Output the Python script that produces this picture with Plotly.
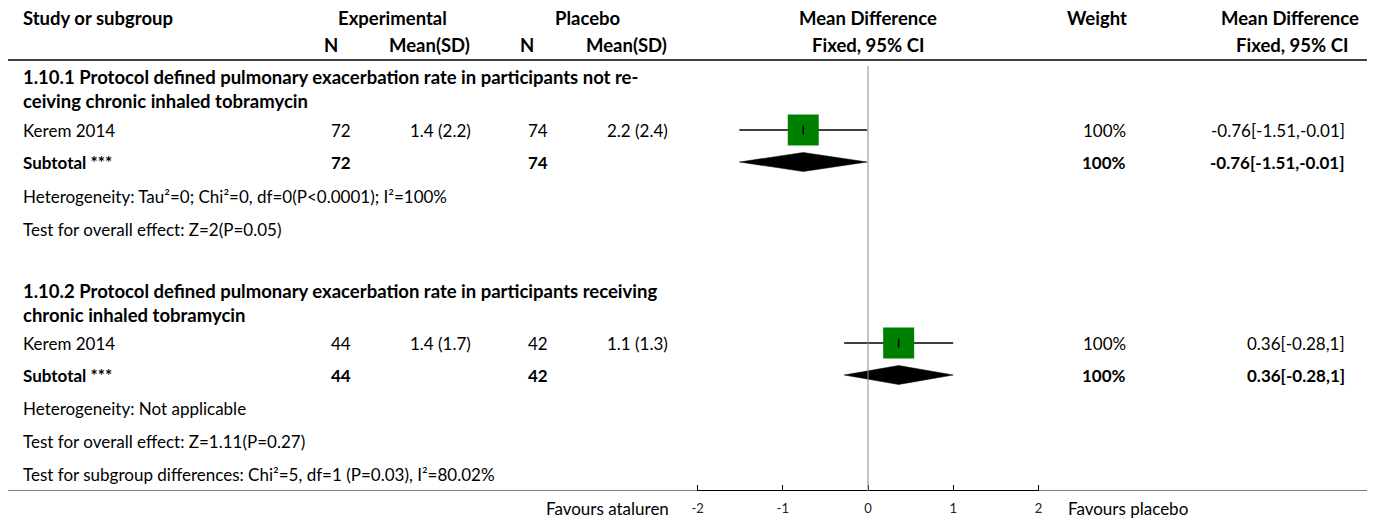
import plotly.graph_objects as go

# ---- data ----
subgroup_titles = [
    ["1.10.1 Protocol defined pulmonary exacerbation rate in participants not re-",
     "ceiving chronic inhaled tobramycin"],
    ["1.10.2 Protocol defined pulmonary exacerbation rate in participants receiving",
     "chronic inhaled tobramycin"],
]
study_names = ["Kerem 2014", "Kerem 2014"]
exp_n = [72, 44]
exp_mean = [1.4, 1.4]
exp_sd = [2.2, 1.7]
pla_n = [74, 42]
pla_mean = [2.2, 1.1]
pla_sd = [2.4, 1.3]
md = [-0.76, 0.36]
ci_lo = [-1.51, -0.28]
ci_hi = [-0.01, 1]
weights = ["100%", "100%"]
heterogeneity = [
    "Heterogeneity: Tau²=0; Chi²=0, df=0(P<0.0001); I²=100%",
    "Heterogeneity: Not applicable",
]
overall_effect = [
    "Test for overall effect: Z=2(P=0.05)",
    "Test for overall effect: Z=1.11(P=0.27)",
]
subgroup_diff = "Test for subgroup differences: Chi²=5, df=1 (P=0.03), I²=80.02%"
tick_vals = [-2, -1, 0, 1, 2]
left_label = "Favours ataluren"
right_label = "Favours placebo"

# ---- layout constants ----
W, H = 1375, 522
PLOT_BOTTOM = 491           # pixel row of the axis line
X0_PX, UNIT_PX = 868, 85.2  # pixel of zero and pixels per unit
FONT = "Lato, 'Source Sans Pro', sans-serif"
FS = 17          # regular text
FS_BOLD = 17     # bold numbers
FS_HEAD = 18.5   # bold headings and subgroup titles
TXT = "#000000"

x_range = [-X0_PX / UNIT_PX, (W - X0_PX) / UNIT_PX]

# row centres (pixels from top) for each subgroup block
block_rows = [
    dict(title=89, study=130, subtotal=162, het=196, eff=229),
    dict(title=303, study=343, subtotal=375, het=408, eff=441),
]
diff_row = 474

col_exp_n, col_exp_ms = 353, 473
col_pla_n, col_pla_ms = 550, 670
col_weight = 1104
col_ci = 1347
left_text = 21


def px(x):
    return x / W


def fmt(v):
    return format(v, "g")


annotations = []


def add_text(x, y, text, anchor="left", bold=False, size=None, color=TXT, yref="y"):
    if size is None:
        size = FS_BOLD if bold else FS
    if bold:
        text = "<br>".join(f"<b>{t}</b>" for t in text.split("<br>"))
    annotations.append(dict(
        x=px(x), y=y, xref="paper", yref=yref, text=text,
        showarrow=False, xanchor=anchor, yanchor="middle", align=anchor,
        font=dict(family=FONT, size=size, color=color),
    ))


# header
add_text(left_text, 18, "Study or subgroup", bold=True, size=FS_HEAD)
add_text(392, 18, "Experimental", "center", True, FS_HEAD)
add_text(588, 18, "Placebo", "center", True, FS_HEAD)
add_text(868, 18, "Mean Difference", "center", True, FS_HEAD)
add_text(1097, 18, "Weight", "center", True, FS_HEAD)
add_text(1290, 18, "Mean Difference", "center", True, FS_HEAD)
add_text(331, 45, "N", "center", True, FS_HEAD)
add_text(429, 45, "Mean(SD)", "center", True, FS_HEAD)
add_text(527, 45, "N", "center", True, FS_HEAD)
add_text(626, 45, "Mean(SD)", "center", True, FS_HEAD)
add_text(868, 45, "Fixed, 95% CI", "center", True, FS_HEAD)
add_text(1292, 45, "Fixed, 95% CI", "center", True, FS_HEAD)

fig = go.Figure()

for i, rows in enumerate(block_rows):
    # wrapped subgroup title
    add_text(left_text, rows["title"], "<br>".join(subgroup_titles[i]), bold=True, size=FS_HEAD)
    # study row
    add_text(left_text, rows["study"], study_names[i])
    add_text(col_exp_n, rows["study"], str(exp_n[i]), "right")
    add_text(col_exp_ms, rows["study"], f"{fmt(exp_mean[i])} ({fmt(exp_sd[i])})", "right")
    add_text(col_pla_n, rows["study"], str(pla_n[i]), "right")
    add_text(col_pla_ms, rows["study"], f"{fmt(pla_mean[i])} ({fmt(pla_sd[i])})", "right")
    add_text(col_weight, rows["study"], weights[i], "center")
    ci_txt = f"{fmt(md[i])}[{fmt(ci_lo[i])},{fmt(ci_hi[i])}]"
    add_text(col_ci, rows["study"], ci_txt, "right")
    # subtotal row
    add_text(left_text, rows["subtotal"], "Subtotal ***", bold=True)
    add_text(col_exp_n, rows["subtotal"], str(exp_n[i]), "right", True)
    add_text(col_pla_n, rows["subtotal"], str(pla_n[i]), "right", True)
    add_text(col_weight, rows["subtotal"], weights[i], "center", True)
    add_text(col_ci, rows["subtotal"], ci_txt, "right", True)
    add_text(left_text, rows["het"], heterogeneity[i])
    add_text(left_text, rows["eff"], overall_effect[i])

    # confidence interval line
    fig.add_trace(go.Scatter(
        x=[ci_lo[i], ci_hi[i]], y=[rows["study"], rows["study"]], mode="lines",
        line=dict(color="#000000", width=1.5), hoverinfo="skip", showlegend=False,
    ))
    # weighted square
    fig.add_trace(go.Scatter(
        x=[md[i]], y=[rows["study"]], mode="markers",
        marker=dict(symbol="square", size=31, color="#008000", line=dict(width=0)),
        hoverinfo="skip", showlegend=False,
    ))
    # point estimate tick
    fig.add_trace(go.Scatter(
        x=[md[i], md[i]], y=[rows["study"] - 4.5, rows["study"] + 4.5], mode="lines",
        line=dict(color="#000000", width=1.5), hoverinfo="skip", showlegend=False,
    ))
    # pooled diamond
    yc = rows["subtotal"]
    fig.add_trace(go.Scatter(
        x=[ci_lo[i], md[i], ci_hi[i], md[i], ci_lo[i]],
        y=[yc, yc - 9.5, yc, yc + 9.5, yc],
        mode="lines", fill="toself", fillcolor="#000000",
        line=dict(color="#000000", width=0.5), hoverinfo="skip", showlegend=False,
    ))

add_text(left_text, diff_row, subgroup_diff)

# axis side labels, placed below the plot area
label_y = -(509 - PLOT_BOTTOM) / PLOT_BOTTOM
add_text(671, label_y, left_label, "right", yref="paper")
add_text(1066, label_y, right_label, "left", yref="paper")

shapes = [
    # header rule
    dict(type="line", xref="paper", yref="y", x0=px(8), x1=px(1367), y0=60, y1=60,
         line=dict(color="#000000", width=1.5)),
    # bottom rule
    dict(type="line", xref="paper", yref="y", x0=px(8), x1=px(1367), y0=PLOT_BOTTOM, y1=PLOT_BOTTOM,
         line=dict(color="#000000", width=1)),
    # axis line between the outer ticks
    dict(type="line", xref="x", yref="y", x0=tick_vals[0], x1=tick_vals[-1],
         y0=PLOT_BOTTOM, y1=PLOT_BOTTOM, line=dict(color="#000000", width=2)),
    # line of no effect
    dict(type="line", xref="x", yref="y", x0=0, x1=0, y0=66, y1=PLOT_BOTTOM,
         line=dict(color="#8a8a8a", width=1)),
]

fig.update_layout(
    width=W, height=H,
    margin=dict(l=0, r=0, t=0, b=H - PLOT_BOTTOM),
    paper_bgcolor="white", plot_bgcolor="white",
    showlegend=False,
    annotations=annotations,
    shapes=shapes,
    xaxis=dict(
        range=x_range, tickvals=tick_vals, ticktext=[str(v) for v in tick_vals],
        ticks="inside", ticklen=6, tickwidth=1, tickcolor="#000000",
        ticklabelstandoff=8,
        showline=False, showgrid=False, zeroline=False,
        tickfont=dict(family=FONT, size=13, color="#222222"),
        fixedrange=True,
    ),
    yaxis=dict(
        range=[PLOT_BOTTOM, 0], showticklabels=False, showgrid=False,
        zeroline=False, showline=False, ticks="", fixedrange=True,
    ),
)

fig.write_html("out.html")
